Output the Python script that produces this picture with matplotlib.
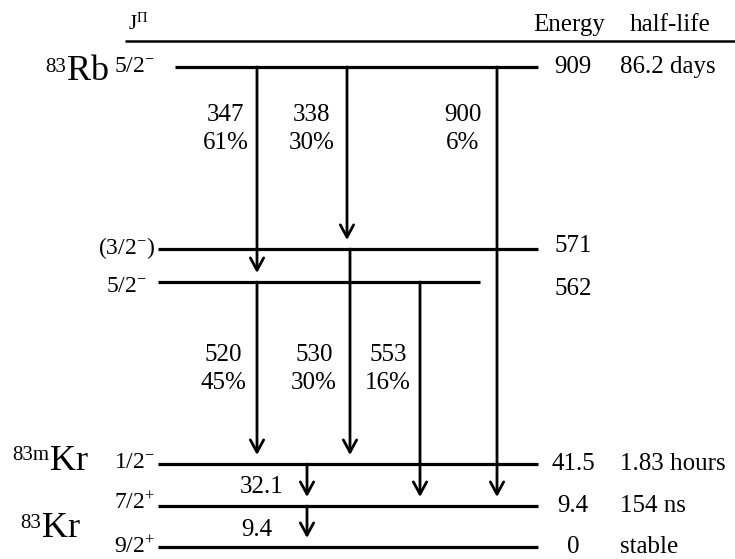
import matplotlib as mpl
mpl.use('Agg')
import matplotlib.pyplot as plt

plt.rcParams['font.family'] = ['Liberation Serif', 'DejaVu Serif']
plt.rcParams['mathtext.fontset'] = 'custom'
plt.rcParams['mathtext.rm'] = 'Liberation Serif'
plt.rcParams['mathtext.it'] = 'Liberation Serif'

# level data
energies = ['909', '571', '562', '41.5', '9.4', '0']
spins = ['5/2$^{-}$', '(3/2$^{-}$)', '5/2$^{-}$', '1/2$^{-}$', '7/2$^{+}$', '9/2$^{+}$']
halflives = ['86.2 days', '', '', '1.83 hours', '154 ns', 'stable']

# transitions: from level, to level, gamma energy, intensity
trans_from = [0, 0, 0, 1, 2, 2, 3, 4]
trans_to = [2, 1, 4, 3, 3, 4, 4, 5]
trans_energy = ['347', '338', '900', '530', '520', '553', '32.1', '9.4']
trans_intensity = ['61%', '30%', '6%', '30%', '45%', '16%', '', '']

# nuclei labels
nuc_mass = ['83', '83m', '83']
nuc_name = ['Rb', 'Kr', 'Kr']

# layout (pixel coordinates of the drawing)
level_y = [67, 249, 282, 464, 506, 547]
level_x0 = [175, 158, 158, 158, 158, 158]
level_x1 = [538, 538, 480, 538, 538, 538]
spin_x = [155, 155, 147, 155, 155, 155]
spin_y = [67, 248, 287, 463, 503, 547]
energy_y = [67, 246, 289, 464, 506, 547]
trans_x = [257, 347, 497, 350, 257, 420, 307, 307]
lab_x = [226, 312, 463, 314, 223, 388, 262, 257]
lab_y = [129, 129, 129, 369, 369, 369, 487, 530]
nuc_x = [67, 50, 42]
nuc_base = [80, 470, 537]
nuc_sup = [72, 460, 528]

fig = plt.figure(figsize=(7.35, 5.59), dpi=100)
ax = fig.add_axes([0, 0, 1, 1])
ax.set_xlim(0, 735)
ax.set_ylim(559, 0)
ax.axis('off')

fs = 18

# header
ax.plot([125, 735], [41, 41], color='black', lw=1.8, solid_capstyle='butt')
ax.text(128, 24, r'J$^{\mathrm{Π}}$', fontsize=15, ha='left', va='center')
ax.text(569, 25, 'Energy', fontsize=fs, ha='center', va='center')
ax.text(670, 25, 'half-life', fontsize=fs, ha='center', va='center')

# levels
for i in range(len(energies)):
    ax.plot([level_x0[i], level_x1[i]], [level_y[i], level_y[i]], color='black', lw=2.3,
            solid_capstyle='butt')
    ax.text(spin_x[i], spin_y[i], spins[i], fontsize=17, ha='right', va='center')
    ax.text(573, energy_y[i], energies[i], fontsize=fs, ha='center', va='center')
    if halflives[i]:
        ax.text(620, energy_y[i], halflives[i], fontsize=fs, ha='left', va='center')

# transitions
for i in range(len(trans_energy)):
    y0 = level_y[trans_from[i]]
    y1 = level_y[trans_to[i]] - 9
    x = trans_x[i]
    ax.annotate('', xy=(x, y1), xytext=(x, y0),
                arrowprops=dict(arrowstyle='->, head_length=0.55, head_width=0.3',
                                color='black', lw=2.0, shrinkA=0, shrinkB=0,
                                mutation_scale=16))
    label = trans_energy[i]
    if trans_intensity[i]:
        label = label + '\n' + trans_intensity[i]
    ax.text(lab_x[i], lab_y[i], label, fontsize=fs, ha='center', va='center',
            linespacing=1.3)

# nuclei
for i in range(len(nuc_name)):
    ax.text(nuc_x[i], nuc_base[i], nuc_name[i], fontsize=26, ha='left', va='baseline')
    ax.text(nuc_x[i] - 1, nuc_sup[i], nuc_mass[i], fontsize=15, ha='right', va='baseline')

fig.savefig('out.png', dpi=100)
